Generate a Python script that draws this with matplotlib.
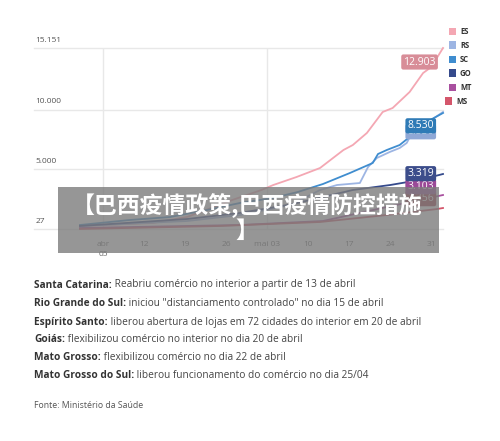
import matplotlib
matplotlib.use("Agg")
import matplotlib.pyplot as plt
from matplotlib.patches import Rectangle

W, H = 500, 441
# ---- data (day 0 = 1 April) ----
es_days = [0, 12.5, 18.3, 26, 31, 33, 37, 41, 45, 46.6, 49, 51.7, 53.4, 56.3, 58.6, 60, 62]
es_vals = [278, 528, 1030, 2450, 3286, 3700, 4373, 5124, 6628, 7045, 8050, 9804, 10138, 11475, 13060, 13560, 15151]
rs_days = [0, 18.3, 27.3, 36, 41, 43.9, 47.8, 49.2, 50.7, 52.9, 54.6, 55.8, 56.8, 58, 62]
rs_vals = [278, 695, 1197, 2032, 3286, 3703, 3870, 5208, 5960, 6461, 6795, 7213, 8132, 8467, 9804]
sc_days = [0, 8.5, 15.4, 21.7, 27.3, 32.9, 37.2, 41.5, 46.1, 50, 50.9, 52.4, 54.6, 56.3, 57.5, 59.2, 62]
sc_vals = [361, 779, 1030, 1615, 2200, 2617, 3119, 3787, 4706, 5542, 6294, 6628, 7046, 7714, 8467, 8968, 9720]
go_days = [0, 18.3, 27.3, 36.4, 42.2, 46.6, 53, 58, 62]
go_vals = [278, 863, 1364, 2116, 2785, 3286, 3704, 4122, 4623]
mt_days = [0, 27.3, 41.5, 52.4, 58, 62]
mt_vals = [111, 361, 695, 1865, 2450, 2868]
ms_days = [0, 23.9, 41, 52.4, 61, 62]
ms_vals = [27, 278, 612, 1197, 1698, 1782]

series_names = ["ES", "RS", "SC", "GO", "MT", "MS"]
colors = ["#f4a7b3", "#9db5e3", "#3f8dcf", "#354a8c", "#a9509f", "#d4566b"]

tick_days = [4, 11, 18, 25, 32, 39, 46, 53, 60]
tick_labels = ["abr\n05", "12", "19", "26", "mai 03", "10", "17", "24", "31"]
y_ticks = [27, 5000, 10000, 15151]
y_tick_labels = ["27", "5.000", "10.000", "15.151"]

end_labels = ["12.903", "8.530", "8.530", "3.319", "3.103", "2.356"]

notes_bold = ["Santa Catarina:", "Rio Grande do Sul:", "Espírito Santo:", "Goiás:", "Mato Grosso:", "Mato Grosso do Sul:"]
notes_text = [" Reabriu comércio no interior a partir de 13 de abril",
              " iniciou \"distanciamento controlado\" no dia 15 de abril",
              " liberou abertura de lojas em 72 cidades do interior em 20 de abril",
              " flexibilizou comércio no interior no dia 20 de abril",
              " flexibilizou comércio no dia 22 de abril",
              " liberou funcionamento do comércio no dia 25/04"]
source = "Fonte: Ministério da Saúde"
title = "【巴西疫情政策,巴西疫情防控措施\n】"

FONT = "Open Sans"
fig = plt.figure(figsize=(W / 100, H / 100), dpi=100)
fig.patch.set_facecolor("white")

def fx(px):
    return px / W

def fy(py):
    return 1 - py / H

ax = fig.add_axes([fx(34), fy(229), fx(443) - fx(34), fy(48) - fy(229)])
ax.set_xlim(-7.85, 62)
ax.set_ylim(27, 15151)
for s in ax.spines.values():
    s.set_visible(False)
ax.set_yticks([])
ax.set_xticks([])
for yv in y_ticks:
    ax.axhline(yv, color="#e8e8e8", lw=1.0, zorder=0, clip_on=False)
for xv in [4, 32]:
    ax.axvline(xv, color="#e8e8e8", lw=1.0, zorder=0)

data = [(es_days, es_vals), (rs_days, rs_vals), (sc_days, sc_vals),
        (go_days, go_vals), (mt_days, mt_vals), (ms_days, ms_vals)]
order = [5, 4, 3, 1, 2, 0]
for i in order:
    d, v = data[i]
    ax.plot(d, v, color=colors[i], lw=1.3, solid_joinstyle="round", zorder=2 + i, clip_on=False)

# y labels above gridlines
for yv, lab in zip(y_ticks, y_tick_labels):
    ax.annotate(lab, xy=(0, yv), xycoords=("axes fraction", "data"),
                xytext=(1, 3), textcoords="offset points", ha="left", va="bottom",
                fontsize=6, color="#555555", family=FONT)
# x labels
for d, lab in zip(tick_days, tick_labels):
    ax.annotate(lab, xy=(d, 27), xycoords="data", xytext=(0, -9), textcoords="offset points",
                ha="center", va="top", fontsize=6, color="#666666", family=FONT, linespacing=1.6)

# end labels
lab_pos = [(58.0, 13980), (58.2, 8150), (58.2, 8650), (58.2, 4650), (58.2, 3560), (58.2, 2560)]
lab_col = ["#d88d98", "#8fa8d6", "#2f7bb6", "#3c4d8b", "#9b4a98", "#a03545"]
draw_order = [0, 1, 2, 5, 4, 3]
for k, i in enumerate(draw_order):
    x, y = lab_pos[i]
    ax.text(x, y, end_labels[i], ha="center", va="center", fontsize=7.5, color="white",
            family=FONT, zorder=20 + k,
            bbox=dict(boxstyle="round,pad=0.2,rounding_size=0.2", fc=lab_col[i], ec="none"))

# legend
leg_y = [31, 45, 59, 73, 87, 101]
for i, name in enumerate(series_names):
    sx = 449 if i < 5 else 445
    fig.patches.append(Rectangle((fx(sx), fy(leg_y[i] + 3.5)), 7 / W, 7 / H,
                                 transform=fig.transFigure, fc=colors[i], ec="none"))
    fig.text(fx(sx + 11), fy(leg_y[i]), name, fontsize=5.5, fontweight="bold",
             color="#333333", family=FONT, va="center", ha="left")

# notes
note_y = [285, 303, 322, 340, 358, 376]
renderer = fig.canvas.get_renderer()
for by, b, t in zip(note_y, notes_bold, notes_text):
    tb = fig.text(fx(34), fy(by), b, fontsize=7.3, fontweight="bold", color="#333333",
                  family=FONT, va="center", ha="left")
    bb = tb.get_window_extent(renderer)
    fig.text(bb.x1 / W, fy(by), t, fontsize=7.3, color="#444444", family=FONT,
             va="center", ha="left")
fig.text(fx(34), fy(406), source, fontsize=6.3, color="#555555", family=FONT, va="center", ha="left")

# overlay band
fig.patches.append(Rectangle((fx(58), fy(253)), (439 - 58) / W, (253 - 187) / H,
                             transform=fig.transFigure, fc="#7c7c7c", ec="none", alpha=0.8, zorder=50))
fig.text(fx(247), fy(218), title, fontsize=16.5, fontweight="bold", color="white",
         family=["Noto Sans CJK SC", "DejaVu Sans"], ha="center", va="center",
         multialignment="center", linespacing=1.1, zorder=60)

fig.savefig("out.png", dpi=100, facecolor="white")
